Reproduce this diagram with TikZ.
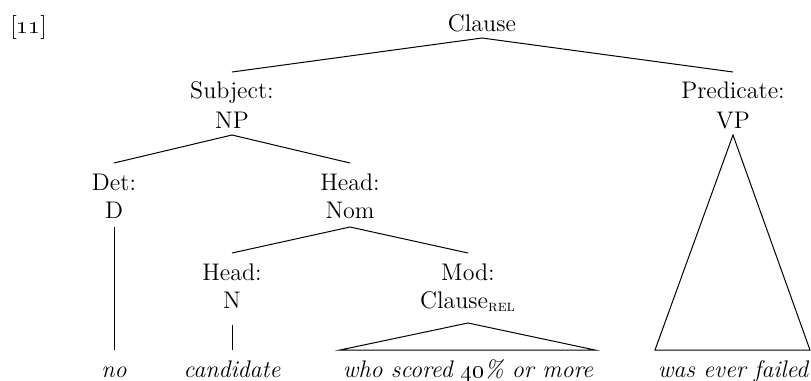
\documentclass[tikz,border=0pt]{standalone}
\usetikzlibrary{calc}
\begin{document}
\begin{tikzpicture}[x=0.5pt,y=-0.5pt,
  lab/.style={anchor=base,inner sep=0pt,font=\fontsize{12}{15}\selectfont},
  leaf/.style={lab,font=\fontsize{12}{15}\selectfont\itshape},
  edge/.style={draw,line width=0.5pt}]
\useasboundingbox (0,0) rectangle (811,381);
% labels
\node[lab,anchor=base west] (num) at (10,33) {[\oldstylenums{11}]};
\node[lab] (clause) at (482,31) {Clause};
\node[lab] (subjF) at (232,98) {Subject:};
\node[lab] (subj) at (232,128) {NP};
\node[lab] (predF) at (733,98) {Predicate:};
\node[lab] (pred) at (733,128) {VP};
\node[lab] (detF) at (114,190) {Det:};
\node[lab] (det) at (114,218) {D};
\node[lab] (headF) at (350,190) {Head:};
\node[lab] (head) at (350,218) {Nom};
\node[lab] (nF) at (232,280) {Head:};
\node[lab] (n) at (232,308) {N};
\node[lab] (modF) at (468,280) {Mod:};
\node[lab] (mod) at (468,308) {Clause\textsubscript{\textsc{rel}}};
\node[leaf] (w1) at (114,377) {no};
\node[leaf] (w2) at (232,377) {candidate};
\node[leaf] (w3) at (468,377) {who scored \oldstylenums{40}\% or more};
\node[leaf] (w4) at (733,377) {was ever failed};
% branches
\draw[edge] ($(subjF.base)+(0,-26)$) -- ($(clause.base)+(0,7)$) -- ($(predF.base)+(0,-26)$);
\draw[edge] ($(detF.base)+(0,-27)$) -- ($(subj.base)+(0,7)$) -- ($(headF.base)+(0,-27)$);
\draw[edge] ($(nF.base)+(0,-27)$) -- ($(head.base)+(0,9)$) -- ($(modF.base)+(0,-27)$);
\draw[edge] ($(det.base)+(0,9)$) -- ($(w1.base)+(0,-27)$);
\draw[edge] ($(n.base)+(0,17)$) -- ($(w2.base)+(0,-27)$);
\draw[edge] ($(mod.base)+(0,15)$) -- ($(w3.base)+(-128,-27)$) -- ($(w3.base)+(127,-27)$) -- cycle;
\draw[edge] ($(pred.base)+(0,7)$) -- ($(w4.base)+(-78,-27)$) -- ($(w4.base)+(77,-27)$) -- cycle;
\end{tikzpicture}
\end{document}
